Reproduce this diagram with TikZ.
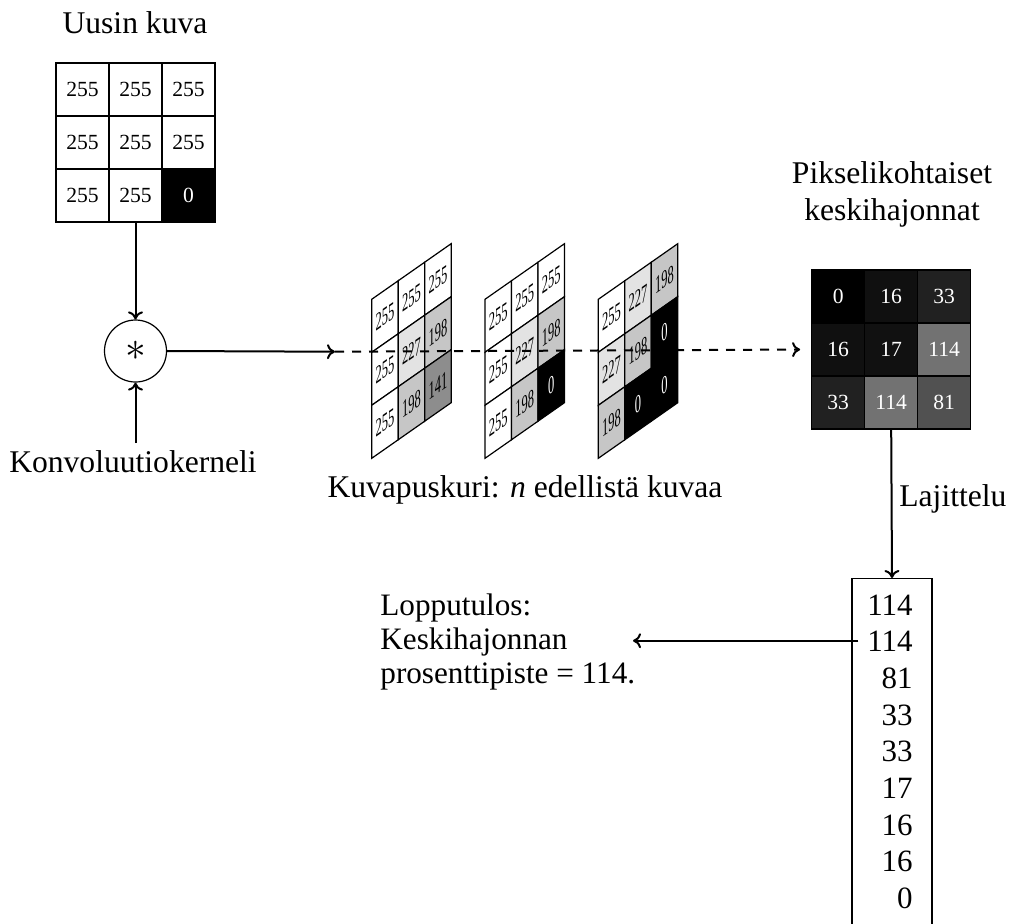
\documentclass[tikz,border=0pt]{standalone}
\usepackage{fontspec}
\setmainfont{Liberation Serif}
\usetikzlibrary{arrows.meta}

\newcommand\cellfont{\fontsize{10.8}{12}\selectfont}

\tikzset{
  pix/.style={draw, line width=0.6pt, minimum size=26.5pt, inner sep=0pt,
    font=\cellfont, anchor=center},
  conn/.style={line width=1pt, -{To[length=4pt,width=7.5pt]}},
  txt/.style={font=\fontsize{15.8}{18}\selectfont},
  listnum/.style={font=\fontsize{15.5}{18}\selectfont, anchor=base east, inner sep=0pt},
  skewed/.style={shift={#1}, cm={0.5,0.35,0,1,(0,0)}, transform shape},
}

% 3x3 grid of grey values; the fill of each cell is its own value
\newcommand\pixgrid[2]{%
  \foreach \v [count=\k from 0] in {#2} {
    \pgfmathtruncatemacro\gr{div(\k,3)}
    \pgfmathtruncatemacro\gc{mod(\k,3)}
    \definecolor{cellfill}{RGB}{\v,\v,\v}
    \ifnum\v<128 \def\celltext{white}\else\def\celltext{black}\fi
    \node[pix, fill=cellfill, text=\celltext] (#1-\gr-\gc)
      at ({26.5+53*\gc},{-26.5-53*\gr}) {\v};
  }
}

\begin{document}
\begin{tikzpicture}[x=0.5pt, y=0.5pt]
  \path[use as bounding box, clip] (0,0) rectangle (1018,-923);

  % newest frame
  \node[txt, anchor=base] (newlabel) at (135,-33) {Uusin kuva};
  \begin{scope}[shift={(56,-63)}]
    \pixgrid{new}{255,255,255,255,255,255,255,255,0}
  \end{scope}

  % convolution
  \node[draw, circle, minimum size=31pt, inner sep=0pt, line width=0.6pt] (conv)
    at (135.5,-351) {\fontsize{20.74}{24}\selectfont$\ast$};
  \node[txt, anchor=base] (kernel) at (133,-472) {Konvoluutiokerneli};
  \draw[conn] (new-2-1.south) -- (conv.north);
  \draw[conn] (conv.south |- kernel.north) -- (conv.south);

  % frame buffer, drawn as slanted frames
  \begin{scope}[skewed={(371.7,-299.3)}]
    \def\cellfont{\fontsize{12.5}{14}\selectfont}
    \pixgrid{bufa}{255,255,255,255,227,198,255,198,141}
  \end{scope}
  \begin{scope}[skewed={(485,-299.3)}]
    \def\cellfont{\fontsize{12.5}{14}\selectfont}
    \pixgrid{bufb}{255,255,255,255,227,198,255,198,0}
  \end{scope}
  \begin{scope}[skewed={(598.3,-299.3)}]
    \def\cellfont{\fontsize{12.5}{14}\selectfont}
    \pixgrid{bufc}{255,227,198,227,198,0,198,0,0}
  \end{scope}
  \node[txt, anchor=base] (buflabel) at (525,-497) {Kuvapuskuri: \textit{n} edellistä kuvaa};

  % per-pixel deviations
  \node[anchor=north, align=center, inner sep=0pt,
        font=\fontsize{15.8}{18.5}\selectfont] (heatlabel)
    at (892,-161) {Pikselikohtaiset\\keskihajonnat};
  \begin{scope}[shift={(811.7,-270)}]
    \pixgrid{heat}{0,16,33,16,17,114,33,114,81}
  \end{scope}

  % conv -> buffer -> deviations
  \coordinate (bufin) at (335,-351.7);
  \draw[conn] (conv.east) -- (bufin);
  \draw[conn, dash pattern=on 4.5pt off 4pt, shorten >=5.5pt] (bufin) -- (heat-1-0.west);

  % sorted list
  \node[draw, line width=0.6pt, minimum width=40pt, minimum height=200pt,
        inner sep=0pt, anchor=north] (sortbox) at (892,-578) {};
  \foreach \v [count=\i] in {114,114,81,33,33,17,16,16,0}
    \node[listnum] (sorted-\i) at (913,{-615-36.7*(\i-1)}) {\v};
  \draw[conn] (heat-2-1.south) -- (sortbox.north);
  \node[txt, anchor=base west, inner sep=0pt] (sortlabel) at (899,-506) {Lajittelu};

  % result
  \node[anchor=north west, align=left, inner sep=0pt,
        font=\fontsize{15.6}{17.1}\selectfont] (result)
    at (380,-593.5) {Lopputulos:\\Keskihajonnan\\prosenttipiste = 114.};
  \coordinate (restip) at (633,-640.7);
  \draw[conn] ([xshift=3.5pt]sortbox.west |- restip) -- (restip);
\end{tikzpicture}
\end{document}
